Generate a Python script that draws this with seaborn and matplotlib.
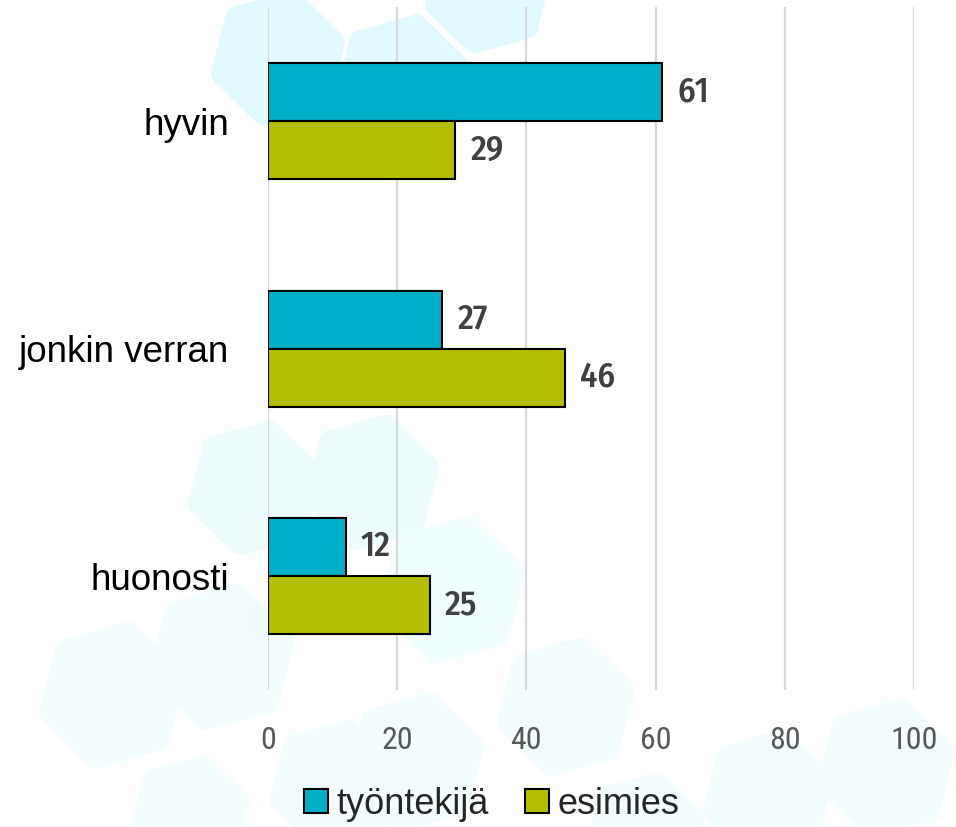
import matplotlib
matplotlib.use("Agg")
import matplotlib.pyplot as plt
from matplotlib.patches import RegularPolygon, Patch
import seaborn as sns
import pandas as pd

categories = ["hyvin", "jonkin verran", "huonosti"]
series_names = ["työntekijä", "esimies"]
tyontekija = [61, 27, 12]
esimies = [29, 46, 25]
x_ticks = [0, 20, 40, 60, 80, 100]

colors = {"työntekijä": "#00AFC8", "esimies": "#B3BF00"}

df = pd.DataFrame({
    "kategoria": categories * 2,
    "ryhmä": [series_names[0]] * 3 + [series_names[1]] * 3,
    "arvo": tyontekija + esimies,
})

sns.set_theme(style="white")
plt.rcParams["font.family"] = ["Liberation Sans", "DejaVu Sans"]
TICKF = ["Roboto Condensed", "PT Sans Narrow", "Liberation Sans", "DejaVu Sans"]
LABF = ["Fira Sans Condensed", "PT Sans Narrow", "Liberation Sans", "DejaVu Sans"]

fig = plt.figure(figsize=(9.56, 8.27), dpi=100)

# decorative background hexagons (pixel coordinates of the figure)
bg = fig.add_axes([0, 0, 1, 1], zorder=0)
bg.set_xlim(0, 956)
bg.set_ylim(827, 0)
bg.axis("off")
hexes = [
    (278, 58, 58, "#E2FAFD"), (402, 82, 58, "#E2FAFD"), (488, -10, 54, "#E2FAFD"),
    (255, 488, 58, "#EEFCFE"), (372, 482, 58, "#EEFCFE"), (452, 590, 64, "#F1FDFE"),
    (112, 695, 64, "#F3FDFE"), (222, 657, 64, "#F3FDFE"), (335, 785, 56, "#F3FDFE"),
    (190, 815, 50, "#F3FDFE"), (415, 762, 60, "#F3FDFE"), (566, 707, 60, "#F3FDFE"),
    (645, 832, 50, "#F3FDFE"), (768, 795, 56, "#F3FDFE"), (886, 768, 60, "#F3FDFE"),
]
for cx, cy, r, c in hexes:
    bg.add_patch(RegularPolygon((cx, cy), 6, radius=r, orientation=0.25,
                                facecolor=c, edgecolor=c, lw=16, joinstyle="round"))

ax = fig.add_axes([268 / 956, 1 - 690 / 827, (914 - 268) / 956, (690 - 7.25) / 827], zorder=1)
ax.patch.set_alpha(0)

sns.barplot(data=df, y="kategoria", x="arvo", hue="ryhmä", order=categories,
            hue_order=series_names, palette=colors, orient="h", width=0.51,
            edgecolor="black", linewidth=1.5, saturation=1, ax=ax, zorder=3)

for cont in ax.containers:
    ax.bar_label(cont, padding=11, fontsize=25, fontweight="medium", color="#404040",
                 family=LABF)

ax.set_xlim(0, 100)
ax.set_ylim(2.5, -0.5)
ax.set_xticks(x_ticks)
ax.set_xticklabels([str(v) for v in x_ticks], fontsize=23, color="#595959", family=TICKF)
ax.set_yticks(range(len(categories)))
ax.set_yticklabels(categories, fontsize=26.5, color="black")
ax.tick_params(axis="x", length=0, pad=26)
ax.tick_params(axis="y", length=0, pad=28)
ax.set_xlabel("")
ax.set_ylabel("")
ax.grid(axis="x", color="#D9D9D9", linewidth=1.6, zorder=0)
ax.grid(axis="y", visible=False)
for s in ax.spines.values():
    s.set_visible(False)

leg = ax.get_legend()
if leg is not None:
    leg.remove()
handles = [Patch(facecolor=colors[n], edgecolor="black", linewidth=1.5) for n in series_names]
fig.legend(handles, series_names, loc="center", bbox_to_anchor=(492 / 956, 1 - 804 / 827),
           ncol=2, frameon=False, handlelength=0.65, handleheight=0.65, handletextpad=0.25,
           columnspacing=1.0, prop={"family": ["Liberation Sans", "DejaVu Sans"], "size": 26})

fig.savefig("out.png", dpi=100)
